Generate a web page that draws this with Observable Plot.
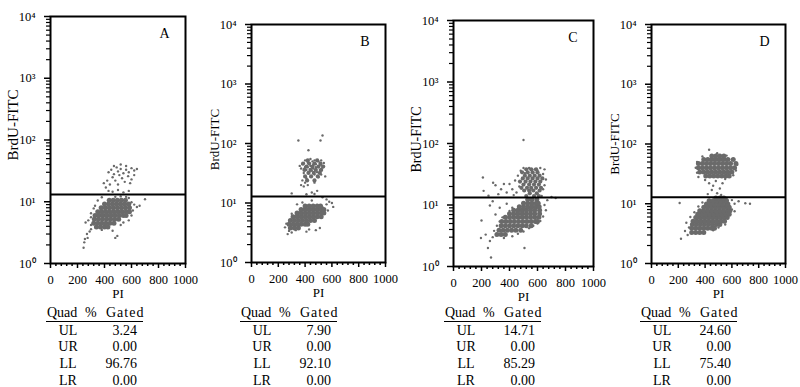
<!DOCTYPE html>
<html><head><meta charset="utf-8">
<script src="https://cdn.jsdelivr.net/npm/d3@7"></script>
<script src="https://cdn.jsdelivr.net/npm/@observablehq/plot@0.6"></script>
<style>
html,body{margin:0;padding:0;background:#fff;}
#root{position:relative;width:800px;height:387px;overflow:hidden;font-family:"Liberation Serif","Times New Roman",serif;color:#000;}
#root svg text{font-family:"Liberation Serif","Times New Roman",serif;}
.pan{position:absolute;}
.tb{position:absolute;font-size:14px;line-height:1;}
.tb span{position:absolute;white-space:nowrap;}
</style></head>
<body><div id="root"></div>
<script>
// ---- data ----
const letters = ["A", "B", "C", "D"];
const quads = ["UL", "UR", "LL", "LR"];
const gatedA = [3.24, 0.00, 96.76, 0.00];
const gatedB = [7.90, 0.00, 92.10, 0.00];
const gatedC = [14.71, 0.00, 85.29, 0.00];
const gatedD = [24.60, 0.00, 75.40, 0.00];
const gates = [13.1, 12.9, 13.2, 12.9];
const xMajor = [0, 200, 400, 600, 800, 1000];
const xMinor = [40, 80, 120, 160, 240, 280, 320, 360, 440, 480, 520, 560, 640, 680, 720, 760, 840, 880, 920, 960];
const yMajor = [1, 10, 100, 1000, 10000];
const yLabels = ["10⁰", "10¹", "10²", "10³", "10⁴"];

// dense regions, read row by row: [BrdU-FITC, [PI values]]
const coreA = [
 [3.9, [340, 370, 400, 425]],
 [4.5, [320, 350, 380, 410, 440, 470]],
 [5.2, [325, 355, 385, 415, 445, 475, 505]],
 [6.0, [330, 360, 390, 420, 450, 480, 510, 540, 560]],
 [6.9, [350, 380, 410, 440, 470, 500, 530, 560, 585]],
 [8.0, [375, 405, 435, 465, 495, 525, 555, 585]],
 [9.2, [400, 430, 460, 490, 520, 550, 580]],
 [10.6, [435, 465, 495, 525, 555]]];
const midA = [];
const sparseA = [[280,5.0],[300,4.2],[260,4.6],[250,2.2],[255,2.5],[270,3.0],[290,3.3],[300,3.6],[245,1.8],[275,2.6],[480,2.6],[495,2.8],
[600,9.8],[620,9.0],[640,8.2],[660,8.6],[700,11.0],[580,11.5],[560,12.0],[480,12.0],[520,12.2],[320,7.8],[330,8.6],[600,6.0],[580,5.0],[540,4.6],[520,4.2],[300,6.5],[350,10.5],[380,11.8],[460,3.4],[380,3.5],[610,7.2],[300,5.6],
[430,30],[450,33],[470,28],[490,36],[500,31],[520,34],[540,29],[560,33],[580,30],[600,35],[620,32],[640,34],[460,25],[480,22],[510,27],[530,24],[550,21],[575,26],[600,23],
[420,22],[440,19],[410,17],[395,20],[500,19],[590,20],[620,27],[470,38],[520,40],[560,38],[430,15],[460,14.5],[500,15.5],[540,14.2],[580,15]];

const coreB = [
 [3.8, [290, 320, 350]],
 [4.4, [280, 310, 340, 370, 400, 420]],
 [5.1, [290, 320, 350, 380, 410, 440, 470]],
 [5.9, [310, 340, 370, 400, 430, 460, 490, 520]],
 [6.8, [340, 370, 400, 430, 460, 490, 520, 540]],
 [7.8, [370, 400, 430, 460, 490, 520, 540]],
 [8.9, [400, 430, 460, 490, 515]]];
const midB = [
 [24, [415, 470]],
 [28, [400, 445, 495]],
 [32, [425, 465, 510]],
 [36, [395, 440, 480, 520]],
 [41, [410, 455, 500, 535]],
 [46, [385, 430, 470, 515]],
 [52, [420, 490]]];
const sparseB = [[270,3.0],[280,3.4],[260,4.5],[300,3.2],[330,3.5],[480,3.5],[510,3.8],[530,8.5],[560,9.5],[580,10.5],[600,10],[610,8.6],[570,7.5],[560,11.5],[340,9.5],[380,10.2],[450,11],[530,12.5],[410,3.3],[430,3.6],[250,3.9],[300,6.6],
[380,45],[400,40],[420,48],[440,42],[460,38],[480,45],[500,50],[520,44],[530,40],[510,36],[490,33],[470,30],[450,35],[430,33],[410,36],[390,32],[370,38],[360,42],[400,52],[440,55],[470,52],[500,42],[520,52],[540,47],[460,44],[480,40],[420,40],
[440,28],[410,26],[380,24],[400,22],[390,19],[370,20],[420,20],[470,22],[500,27],[520,30],[550,28],[430,46],[455,50],
[350,112],[530,136],[515,112],[425,77],[300,14.5],[410,14],[450,15],[490,16],[470,14.2]];

const coreC = [
 [3.3, [310, 340, 370]],
 [3.9, [325, 355, 385, 415, 445, 480]],
 [4.6, [340, 370, 400, 430, 460, 490, 520, 555]],
 [5.4, [345, 375, 405, 435, 465, 495, 525, 555, 585, 600]],
 [6.3, [370, 400, 430, 460, 490, 520, 550, 580, 610]],
 [7.2, [400, 430, 460, 490, 520, 550, 580, 615]],
 [8.2, [430, 460, 490, 520, 550, 580, 615]],
 [9.4, [470, 500, 530, 560, 590, 612]],
 [10.7, [500, 530, 560, 590, 605]],
 [12.3, [530, 560, 595]]];
const midC = [
 [14.0, [520, 575, 610]],
 [15.5, [545, 595]],
 [17.2, [505, 540, 570, 615]],
 [19.0, [485, 525, 555, 590, 625]],
 [21.5, [500, 540, 575, 610]],
 [24, [475, 515, 550, 585, 620]],
 [27, [495, 530, 565, 600, 635]],
 [30, [510, 545, 580, 615]],
 [34, [490, 530, 565, 600]],
 [38, [520, 555, 590]]];
const sparseC = [[400,22],[420,18],[440,25],[460,30],[480,36],[500,40],[450,16],[470,20],[490,27],[640,32],[650,38],[660,26],[640,18],[630,14],[620,40],[580,38],[510,33],[540,40],[560,37],[600,36],[650,21],[430,14.5],
[210,28],[215,17],[283,23],[300,21],[320,15],[340,18],[360,22],[380,16],[500,114],[250,14.2],
[196,2.9],[246,2.0],[268,1.4],[507,2.0],[200,5.6],[230,3.3],[260,2.6],[280,3.0],[290,3.8],[310,4.6],[330,5.4],[350,6.3],[360,2.9],[420,3.1],[460,3.4],[500,3.7],[540,4.2],[570,4.6],
[300,7.0],[330,9.0],[650,10],[660,8.2],[670,12],[640,6.5],[620,5.5],[600,5.0],[700,13.5],[730,13.0],[280,11.5],[260,9.8],[380,10.5],[400,8.0],[420,9.0]];

const coreD = [
 [3.3, [300, 330, 360, 390]],
 [3.9, [300, 330, 360, 390, 420, 450, 470]],
 [4.5, [305, 335, 365, 395, 425, 455, 485, 510]],
 [5.1, [310, 340, 370, 400, 430, 460, 490, 520, 545]],
 [5.9, [330, 360, 390, 420, 450, 480, 510, 540, 565]],
 [6.7, [345, 375, 405, 435, 465, 495, 525, 555, 580]],
 [7.6, [360, 390, 420, 450, 480, 510, 540, 570, 585]],
 [8.7, [390, 420, 450, 480, 510, 540, 570, 580]],
 [9.9, [410, 440, 470, 500, 530, 560, 570]],
 [11.2, [430, 460, 490, 520, 550, 560]],
 [12.5, [480, 510, 540]],
 [29, [405, 435, 465, 495, 525, 555, 580]],
 [34, [360, 390, 420, 450, 480, 510, 540, 570, 600]],
 [40, [350, 380, 410, 440, 470, 500, 530, 560, 590, 620]],
 [47, [350, 380, 410, 440, 470, 500, 530, 560, 590, 630]],
 [55, [390, 420, 450, 480, 510, 540, 570, 610]],
 [63, [450, 480, 510, 540]]];
const midD = [];
const sparseD = [[350,28],[340,33],[620,40],[640,45],[600,55],[610,30],[430,80],[380,62],[560,64],[400,25],[430,22],[460,20],[480,24],[510,18],[530,22],[550,26],[450,17],[490,15],[520,14],[420,14.5],[330,40],[340,50],[630,36],[490,70],
[220,2.6],[210,10.3],[735,10],[700,10.2],[650,11],[620,10],[600,8],[620,7.5],[580,6.5],[250,3.5],[270,3.0],[280,4.0],[260,4.8],[290,6.0],[320,7.2],[550,4.5],[500,4.0],[460,3.6],[350,9.0],[380,10.5],[600,11.5],[560,12.5]];

// ---- layout (frame boxes in page px) ----
const frames = [
  {l: 49.5, r: 184.5, t: 16, b: 263, ylabDy: -15, ylabFs: 15, tx: 0},
  {l: 251, r: 385, t: 24, b: 262, ylabDy: -4, ylabFs: 13, tx: 194},
  {l: 453, r: 593, t: 20, b: 266, ylabDy: -4, ylabFs: 14, tx: 398},
  {l: 651, r: 785, t: 24, b: 263, ylabDy: 0, ylabFs: 13, tx: 594}
];
const rows = r => r.flatMap(([y, xs]) => xs.map(x => [x, y]));
const cores = [coreA, coreB, coreC, coreD].map(rows);
const mids = [midA, midB, midC, midD].map(rows);
const sparses = [sparseA, sparseB, sparseC, sparseD];
const gated = [gatedA, gatedB, gatedC, gatedD];

const yMinor = [];
for (const dec of [1, 10, 100, 1000]) for (const m of [2,3,4,5,6,7,8,9]) yMinor.push(dec * m);

const root = document.getElementById("root");
const ML = 45, MR = 8, MT = 6, MB = 40;
const dotFill = "#6a6a6a";

frames.forEach((f, i) => {
  const plot = Plot.plot({
    width: f.r - f.l + ML + MR,
    height: f.b - f.t + MT + MB,
    marginLeft: ML, marginRight: MR, marginTop: MT, marginBottom: MB,
    style: {fontFamily: "'Liberation Serif', serif", fontSize: "12px", color: "#000", background: "transparent", overflow: "visible"},
    x: {domain: [0, 1000]},
    y: {type: "log", domain: [1, 10000]},
    marks: [
      Plot.dot(sparses[i], {x: d => d[0], y: d => d[1], r: 1.2, fill: dotFill, stroke: "none"}),
      Plot.dot(mids[i], {x: d => d[0], y: d => d[1], r: 2.1, fill: dotFill, stroke: "none"}),
      Plot.dot(cores[i], {x: d => d[0], y: d => d[1], r: 2.5, fill: dotFill, stroke: "none"}),
      Plot.ruleY([gates[i]], {stroke: "#000", strokeWidth: 2}),
      Plot.frame({stroke: "#000", strokeWidth: 2}),
      Plot.axisX({ticks: xMajor, tickSize: 5, tickPadding: 7, tickFormat: d => String(d), label: null, strokeWidth: 1.5, fontSize: 12.5}),
      Plot.axisX({ticks: xMinor, tickSize: 3, tickFormat: () => "", label: null, strokeWidth: 1.5}),
      Plot.axisY({ticks: yMajor, tickSize: 6, tickPadding: 9, tickFormat: d => yLabels[yMajor.indexOf(d)], label: null, strokeWidth: 1.5, fontSize: 12.5}),
      Plot.axisY({ticks: yMinor, tickSize: 4, tickFormat: () => "", label: null, strokeWidth: 1.2}),
      Plot.text([letters[i]], {frameAnchor: "top-right", dx: -16, dy: 12, fontSize: 14}),
      Plot.text(["PI"], {frameAnchor: "bottom", lineAnchor: "middle", dy: 30, fontSize: 13}),
      Plot.text(["BrdU-FITC"], {frameAnchor: "left", lineAnchor: "middle", textAnchor: "middle", rotate: -90, dx: -37, dy: f.ylabDy, fontSize: f.ylabFs})
    ]
  });
  plot.classList.add("pan");
  plot.style.left = (f.l - ML) + "px";
  plot.style.top = (f.t - MT) + "px";
  root.appendChild(plot);

  // table
  const tb = document.createElement("div");
  tb.className = "tb";
  tb.style.left = f.tx + "px";
  tb.style.top = "0px";
  const add = (txt, x, y, anchor, extra) => {
    const s = document.createElement("span");
    s.textContent = txt;
    s.style.top = (y - 7.5) + "px";
    if (anchor === "end") { s.style.left = x + "px"; s.style.transform = "translateX(-100%)"; }
    else if (anchor === "middle") { s.style.left = x + "px"; s.style.transform = "translateX(-50%)"; }
    else s.style.left = x + "px";
    if (extra) s.style.cssText += extra;
    tb.appendChild(s);
  };
  add("Quad", 47, 313);
  add("%", 85, 313);
  add("Gated", 106, 313, null, "letter-spacing:1px;");
  const ul = document.createElement("div");
  ul.style.cssText = "position:absolute;left:46px;top:321px;width:97px;height:0;border-top:1px solid #000;";
  tb.appendChild(ul);
  quads.forEach((q, k) => {
    const y = 331 + k * 16.8;
    add(q, 68, y, "middle");
    add(gated[i][k].toFixed(2), 137, y, "end");
  });
  root.appendChild(tb);
});
</script></body></html>
